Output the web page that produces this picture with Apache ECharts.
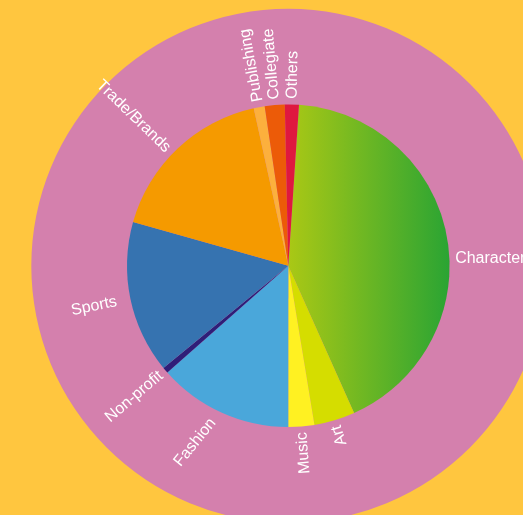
<!DOCTYPE html>
<html>
<head>
<meta charset="utf-8">
<script src="https://cdn.jsdelivr.net/npm/echarts@6/dist/echarts.min.js"></script>
<style>
html,body{margin:0;padding:0;background:#ffc63f;}
#chart{width:523px;height:515px;}
</style>
</head>
<body>
<div id="chart"></div>
<script>
// share of licensing revenue by property type (%), clockwise from 12 o'clock
var categories = ['Character','Art','Music','Fashion','Non-profit','Sports','Trade/Brands','Publishing','Collegiate','Others'];
var shares     = [42.3, 4.1, 2.6, 13.5, 0.6, 15.3, 17.2, 1.1, 2.0, 1.4];
var sliceColors = ['#aac815','#d5dd00','#fff122','#4aa7da','#2f1e78','#3673b0','#f59a00','#fcb03d','#ec5b08','#df183f'];

var CX = 288.3, CY = 265.8;   // pie centre (px)
var R = 161.3;                // pie radius
var RING = 257;               // pink disc behind the labels
var GAP = 5.7;                // space between pie edge and labels
var START = 86.2;             // echarts startAngle
var FONT_FAMILY = '"Liberation Sans", Arial, Helvetica, sans-serif';
var FONT_SIZE = 16;

// labels that do not sit exactly on the slice middle
var labelFix = {
	'Character':    { angle: 87.4, rotate: 0 },
	'Trade/Brands': { angle: 314 },
	'Sports':       { gap: 14 },
	'Fashion':      { angle: 206, rotate: 51, gap: 10.5 }
};

var chart = echarts.init(document.getElementById('chart'));

var ctx = document.createElement('canvas').getContext('2d');
ctx.font = FONT_SIZE + 'px ' + FONT_FAMILY;

function norm(a){
	while (a > 180) a -= 360;
	while (a <= -180) a += 360;
	return a;
}

var total = shares.reduce(function(a,b){ return a + b; }, 0);
var acc = 0;
var pieData = categories.map(function(name, i){
	var from = 90 - START + acc / total * 360;
	acc += shares[i];
	var to = 90 - START + acc / total * 360;
	var mid = (from + to) / 2;            // degrees clockwise from top
	var m = mid * Math.PI / 180;
	var dx = Math.sin(m), dy = -Math.cos(m);

	var fix = labelFix[name] || {};
	var at = fix.angle != null ? fix.angle : mid;
	var gap = fix.gap != null ? fix.gap : GAP;

	// radial text, never upside down: pick reading direction
	var phiOut = norm(90 - at);
	var outward = phiOut > -70 && phiOut <= 115;
	var phi = outward ? phiOut : norm(phiOut + 180);
	if (fix.rotate != null) phi = fix.rotate;

	var alignLeft = dx > 0;
	var w = ctx.measureText(name).width;
	var rA = (outward === alignLeft) ? R + gap : R + gap + w;
	var a = at * Math.PI / 180;
	var px = CX + Math.sin(a) * rA, py = CY - Math.cos(a) * rA;

	// echarts outside label: anchor = C + d*(R+length) + sign(dx)*length2 on x
	var reach = Math.abs(dy) > 0.05 ? (py - CY) / dy : rA;
	var len2 = (alignLeft ? 1 : -1) * (px - CX - dx * reach);

	return {
		name: name,
		value: shares[i],
		itemStyle: { color: i === 0 ? new echarts.graphic.LinearGradient(0, 0, 1, 0, [
			{ offset: 0, color: '#aac815' },
			{ offset: 1, color: '#2aa433' }
		]) : sliceColors[i] },
		label: { rotate: phi },
		labelLine: { length: reach - R, length2: len2 }
	};
});

chart.setOption({
	backgroundColor: '#ffc63f',
	animation: false,
	series: [
		{
			type: 'pie',
			silent: true,
			center: [CX, CY],
			radius: RING,
			z: 1,
			label: { show: false },
			labelLine: { show: false },
			emphasis: { disabled: true },
			data: [{ value: 1, itemStyle: { color: '#d480ad' } }]
		},
		{
			type: 'pie',
			center: [CX, CY],
			radius: R,
			startAngle: START,
			clockwise: true,
			z: 2,
			avoidLabelOverlap: false,
			itemStyle: { borderWidth: 0 },
			emphasis: { disabled: true },
			label: {
				show: true,
				position: 'outside',
				color: '#ffffff',
				fontSize: FONT_SIZE,
				fontFamily: FONT_FAMILY,
				distanceToLabelLine: 0,
				formatter: '{b}'
			},
			labelLine: { show: false },
			data: pieData
		}
	]
});
</script>
</body>
</html>
